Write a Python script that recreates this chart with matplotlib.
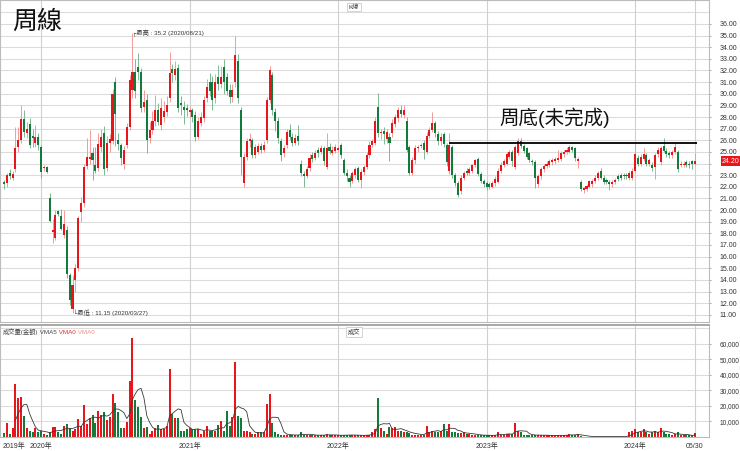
import matplotlib
matplotlib.use('Agg')
import matplotlib.pyplot as plt
from matplotlib import font_manager
import numpy as np
import pandas as pd

plt.rcParams['font.family'] = ['Liberation Sans', 'Noto Sans CJK TC', 'DejaVu Sans']

# ---------------- data (weekly candles) ----------------
start_date = '2019-10-11'
opens = [22.4, 22.3, 23.2, 22.8, 23.5, 25.4, 26.0, 27.8, 26.6, 27.4,
         26.4, 25.8, 26.3, 25.4, 23.6, 23.7, 21.0, 18.1, 17.6, 19.9,
         19.5, 17.9, 18.3, 14.4, 11.5, 14.0, 15.0, 19.8, 20.6, 23.8,
         24.4, 24.9, 23.9, 23.6, 25.4, 26.6, 23.6, 25.8, 25.9, 31.0,
         26.0, 25.6, 24.0, 25.6, 27.1, 30.3, 31.9, 32.3, 31.9, 28.9,
         29.5, 26.2, 26.9, 27.7, 28.6, 27.3, 28.0, 28.4, 29.6, 32.1,
         31.6, 32.2, 29.2, 28.9, 28.8, 28.4, 28.6, 28.2, 26.3, 27.5,
         27.9, 29.6, 31.0, 31.0, 29.6, 31.4, 30.8, 32.3, 31.4, 30.3,
         29.7, 31.0, 32.8, 28.6, 22.3, 24.6, 25.9, 26.0, 24.7, 25.0,
         25.5, 25.2, 26.0, 29.5, 31.6, 28.4, 27.7, 25.9, 24.9, 25.6,
         26.9, 26.3, 25.8, 26.4, 24.0, 23.1, 22.9, 23.6, 24.7, 24.5,
         25.2, 25.0, 25.3, 23.7, 25.4, 24.9, 25.1, 25.2, 25.6, 24.3,
         23.2, 22.8, 22.5, 23.0, 23.6, 22.6, 23.3, 23.7, 24.7, 25.6,
         25.8, 28.9, 26.6, 26.8, 26.1, 26.3, 26.6, 27.4, 27.9, 28.6,
         28.2, 27.7, 25.4, 23.2, 24.3, 25.3, 25.5, 25.8, 25.0, 26.4,
         26.9, 27.5, 26.5, 25.9, 26.5, 25.6, 23.4, 25.4, 23.0, 22.3,
         21.6, 22.8, 23.4, 23.2, 23.4, 23.9, 24.4, 23.1, 22.5, 22.3,
         22.2, 22.0, 22.3, 22.4, 23.4, 23.9, 24.0, 24.6, 25.0, 23.7,
         24.9, 25.9, 25.5, 25.3, 24.9, 24.2, 24.1, 22.2, 22.9, 23.5,
         23.8, 23.9, 24.1, 24.2, 24.3, 24.4, 24.8, 25.0, 25.0, 25.4,
         25.3, 24.2, 22.4, 21.7, 21.8, 22.0, 22.2, 22.5, 22.8, 23.4,
         22.8, 22.6, 22.4, 22.2, 22.4, 22.9, 23.0, 23.0, 23.0, 22.8,
         22.8, 23.4, 24.5, 24.0, 24.4, 24.7, 24.0, 23.9, 23.7, 24.8,
         24.1, 25.5, 25.1, 24.9, 24.7, 25.0, 25.0, 23.9, 23.9, 24.1,
         24.0, 24.2, 24.0]
highs = [22.6, 23.2, 23.5, 23.4, 27.1, 27.1, 29.0, 28.6, 27.6, 27.9,
         27.0, 27.3, 26.6, 25.6, 23.9, 23.8, 21.5, 19.2, 20.0, 20.0,
         20.1, 20.0, 18.6, 14.6, 14.4, 15.4, 19.5, 21.1, 24.0, 26.2,
         26.9, 25.4, 25.4, 26.6, 27.0, 27.2, 26.4, 26.5, 30.4, 31.4,
         26.6, 25.8, 25.5, 27.5, 31.6, 35.2, 33.0, 33.5, 32.2, 30.3,
         30.0, 27.6, 28.5, 29.9, 29.2, 29.6, 29.4, 29.8, 33.6, 32.6,
         32.8, 32.6, 29.8, 29.4, 29.1, 28.9, 28.8, 28.5, 28.0, 28.4,
         29.8, 31.3, 31.8, 31.5, 31.7, 32.5, 32.4, 33.0, 31.8, 30.8,
         30.8, 35.0, 33.4, 28.9, 24.9, 26.2, 26.6, 26.2, 25.7, 25.8,
         25.8, 25.9, 29.7, 32.4, 31.9, 28.8, 28.0, 26.2, 25.6, 27.0,
         27.4, 26.6, 26.5, 27.3, 24.3, 23.4, 23.8, 24.8, 25.0, 25.2,
         25.4, 25.6, 25.5, 26.6, 25.8, 25.5, 25.7, 25.5, 25.8, 24.5,
         23.5, 23.0, 23.4, 23.7, 23.8, 23.5, 23.9, 25.0, 25.9, 26.1,
         28.0, 30.1, 27.0, 27.1, 27.0, 26.6, 27.8, 28.3, 28.9, 29.0,
         29.0, 28.0, 25.6, 24.6, 25.6, 25.6, 25.8, 26.0, 26.7, 27.1,
         28.4, 27.7, 26.8, 26.6, 26.7, 25.8, 26.6, 25.6, 23.2, 22.5,
         23.0, 23.4, 23.6, 23.7, 24.0, 24.4, 24.6, 23.3, 22.7, 22.5,
         22.4, 22.5, 22.9, 23.6, 24.1, 24.4, 25.0, 25.2, 25.2, 25.6,
         26.2, 26.2, 25.7, 25.4, 25.0, 24.4, 24.3, 23.1, 23.7, 24.0,
         24.2, 24.4, 24.5, 24.6, 25.2, 25.1, 25.2, 25.4, 25.6, 25.5,
         25.4, 24.6, 22.6, 22.0, 22.2, 22.6, 22.7, 23.0, 23.4, 23.6,
         23.0, 22.8, 22.6, 22.6, 22.8, 23.1, 23.2, 23.2, 23.2, 23.4,
         23.6, 25.7, 24.7, 24.8, 25.3, 24.9, 24.5, 24.1, 24.9, 25.4,
         25.5, 26.2, 25.3, 25.1, 25.2, 25.8, 25.2, 24.2, 24.2, 24.3,
         24.2, 24.3, 24.9]
lows = [21.8, 22.0, 22.7, 22.6, 23.3, 25.0, 25.8, 26.3, 26.2, 25.3,
        25.4, 25.4, 25.2, 22.8, 23.4, 23.2, 19.0, 17.2, 17.4, 19.5,
        18.3, 17.6, 14.2, 11.8, 11.15, 13.0, 14.8, 19.0, 20.3, 23.5,
        24.0, 22.6, 23.2, 23.4, 25.0, 23.0, 23.4, 25.0, 25.7, 25.5,
        25.2, 23.9, 23.5, 25.3, 26.9, 29.6, 29.6, 31.2, 28.4, 28.4,
        24.9, 25.8, 26.5, 27.2, 27.3, 26.9, 27.6, 28.1, 29.3, 31.0,
        31.2, 28.4, 28.2, 27.4, 28.1, 28.0, 27.6, 25.9, 26.1, 27.2,
        27.6, 29.3, 29.8, 28.6, 29.2, 30.3, 30.5, 30.0, 29.9, 29.2,
        29.3, 30.6, 29.2, 23.0, 22.0, 24.3, 25.4, 24.5, 24.5, 24.8,
        24.9, 25.0, 25.8, 29.2, 28.2, 26.8, 25.8, 24.2, 24.6, 25.3,
        26.0, 25.5, 25.6, 25.6, 22.9, 22.0, 22.8, 23.4, 24.1, 24.3,
        24.6, 24.8, 23.9, 23.5, 24.8, 24.7, 24.9, 25.0, 24.5, 23.0,
        22.5, 22.0, 22.3, 22.8, 22.4, 21.9, 23.0, 23.5, 24.5, 25.4,
        25.6, 26.3, 26.1, 25.7, 25.8, 24.2, 26.3, 27.1, 27.6, 28.0,
        27.9, 25.0, 23.0, 23.0, 24.0, 25.0, 25.3, 24.4, 24.8, 26.2,
        26.7, 26.3, 25.6, 25.6, 25.4, 23.8, 23.1, 22.8, 22.1, 21.1,
        21.4, 22.6, 23.0, 23.0, 23.2, 23.7, 22.9, 22.3, 22.0, 21.7,
        21.8, 21.9, 22.1, 22.3, 23.2, 23.7, 23.9, 24.4, 23.8, 23.5,
        24.7, 25.3, 24.9, 24.4, 24.1, 23.9, 21.9, 22.0, 22.7, 23.3,
        23.6, 23.7, 23.9, 24.0, 24.1, 24.2, 24.6, 24.8, 24.9, 25.0,
        24.2, 23.6, 21.6, 21.5, 21.6, 21.9, 22.0, 22.3, 22.6, 22.7,
        22.2, 22.2, 21.7, 22.0, 22.2, 22.5, 22.6, 22.7, 22.7, 22.6,
        22.6, 23.3, 23.8, 23.8, 24.2, 23.8, 23.8, 23.4, 22.7, 24.6,
        23.9, 25.0, 24.6, 24.5, 24.5, 24.8, 23.3, 23.7, 23.7, 23.7,
        23.6, 23.5, 23.9]
closes = [22.2, 23.0, 22.9, 23.1, 25.3, 26.0, 27.8, 26.7, 27.0, 25.6,
          26.2, 26.3, 25.6, 23.3, 23.7, 23.3, 19.1, 18.3, 19.6, 19.7,
          18.4, 18.8, 14.5, 12.3, 13.6, 15.0, 19.3, 20.6, 23.7, 24.6,
          24.6, 24.3, 23.4, 25.7, 26.3, 23.5, 25.8, 26.1, 30.0, 28.3,
          25.7, 24.5, 25.2, 27.1, 31.2, 31.9, 30.2, 31.9, 28.8, 29.3,
          26.0, 26.9, 27.7, 28.6, 27.6, 28.8, 28.5, 29.0, 31.8, 31.8,
          32.1, 28.8, 29.0, 28.6, 28.6, 28.6, 28.0, 26.3, 27.7, 28.0,
          29.5, 30.6, 30.2, 29.5, 31.0, 30.8, 31.4, 31.0, 30.2, 29.7,
          30.3, 33.3, 29.6, 24.6, 24.6, 25.9, 26.1, 24.7, 25.4, 25.5,
          25.2, 25.6, 29.5, 32.0, 28.6, 27.7, 26.2, 24.7, 25.3, 26.7,
          26.3, 25.8, 26.2, 25.9, 23.2, 22.9, 23.5, 24.5, 24.4, 24.9,
          24.9, 25.3, 24.2, 25.3, 25.1, 25.2, 25.4, 25.3, 24.7, 23.2,
          22.9, 22.4, 23.2, 23.5, 22.6, 23.3, 23.7, 24.7, 25.6, 25.9,
          27.7, 26.6, 26.7, 26.5, 26.7, 25.8, 27.5, 28.0, 28.6, 28.3,
          28.6, 25.2, 23.2, 24.3, 25.3, 25.4, 25.6, 25.2, 26.4, 26.9,
          27.5, 26.6, 25.9, 26.3, 25.7, 24.1, 25.6, 23.0, 22.3, 21.3,
          22.8, 23.2, 23.2, 23.5, 23.9, 24.3, 23.1, 22.5, 22.2, 22.0,
          22.0, 22.3, 22.7, 23.4, 23.9, 24.2, 24.8, 25.0, 24.2, 25.4,
          25.9, 25.5, 25.1, 24.6, 24.3, 24.1, 22.8, 22.9, 23.5, 23.8,
          24.0, 24.2, 24.3, 24.4, 24.5, 24.9, 25.0, 25.2, 25.4, 25.2,
          24.5, 24.4, 21.8, 21.9, 22.1, 22.5, 22.5, 22.8, 23.2, 22.8,
          22.4, 22.4, 22.2, 22.4, 22.6, 22.7, 22.8, 22.9, 22.9, 23.2,
          23.4, 24.8, 24.0, 24.6, 24.8, 24.0, 24.3, 23.6, 24.7, 25.2,
          25.3, 25.1, 24.8, 24.7, 25.0, 25.4, 23.5, 24.0, 24.0, 23.9,
          23.9, 24.0, 24.2]
# weekly turnover, in thousands
volumes_k = [2.6, 9, 2, 6, 34, 25, 26, 13.5, 6, 4,
             3, 6, 3, 4, 2, 1.5, 3, 6.5, 6.5, 3,
             2, 7, 8.5, 6, 4, 5, 11.5, 7, 20.5, 8.5,
             12, 14, 9, 17, 14, 16, 11, 13, 28, 22,
             16, 6, 6, 9.5, 36, 64, 24, 19.5, 13, 6,
             6.5, 2, 4, 6, 7.5, 5, 5, 7, 44, 15,
             12.5, 12, 4, 4, 5, 6, 5, 5, 5, 2,
             4, 7, 4, 4, 4, 7.5, 10, 4, 17, 7,
             13, 48, 13.5, 12, 4, 4, 3, 2, 2, 3,
             3, 3, 21, 27.5, 9, 3, 2, 1.5, 1.5, 1.5,
             1.2, 1.2, 1.0, 1.5, 3, 1.5, 1.2, 1.5, 1.0, 1.2,
             1.0, 1.2, 1.5, 2.0, 1.2, 1.0, 1.0, 1.0, 1.2, 1.5,
             1.5, 1.2, 1.0, 1.0, 1.2, 1.0, 1.0, 1.5, 1.5, 3,
             5, 25, 6, 4, 2, 6.5, 6, 6.5, 4, 4,
             3, 3, 2.5, 1.5, 1.5, 1.5, 1.5, 1.5, 7, 3,
             4, 3.5, 3, 4, 8.5, 4, 8.5, 3, 3, 2.5,
             2.5, 3, 2, 2, 1.5, 1.2, 1.2, 1.0, 1.0, 1.2,
             1.0, 1.0, 1.2, 3, 1.5, 1.5, 2, 2, 2, 9,
             4, 3, 1.5, 1.2, 1.2, 1.0, 1.5, 1.2, 1.0, 1.0,
             1.0, 1.0, 1.0, 1.0, 1.2, 1.0, 1.0, 1.2, 2, 1.5,
             1.2, 2, 0.4, 0.3, 0.3, 0.3, 0.3, 0.3, 0.3, 0.3,
             0.3, 0.3, 0.3, 0.3, 0.3, 0.3, 0.3, 0.3, 0.3, 3,
             4, 5, 3, 3, 5, 3, 2, 3, 4, 3,
             6, 3, 2, 2, 1, 2, 3, 1, 1, 1,
             1, 1, 2.5]

price_ticks = list(range(11, 37))
vol_ticks_k = [10, 20, 30, 40, 50, 60]
bottom_line_price = 25.8
bottom_line_from = 156
last_price = 24.20
high_label = '最高 : 35.2 (2020/08/21)'
low_label = '最低 : 11.15 (2020/03/27)'
end_label = '05/30'
pattern_label = '周底(未完成)'

# ---------------- drawing ----------------
def pick_font(names):
    for n in names:
        try:
            font_manager.findfont(n, fallback_to_default=False)
            return n
        except Exception:
            pass
    return 'DejaVu Sans'

NARROW = pick_font(['Liberation Sans Narrow', 'Liberation Sans'])

N = len(closes)
o = np.array(opens); h = np.array(highs); l = np.array(lows); c = np.array(closes)
v = np.array(volumes_k)
x = np.arange(N)
dates = pd.date_range(start_date, periods=N, freq='7D')

RED = '#e8151b'
GREEN = '#127a3a'
RED_W = '#f39a9a'
GREEN_W = '#7fb893'

up = c >= o
body_col = np.where(up, RED, GREEN)
wick_col = np.where(up, RED_W, GREEN_W)

W, H = 740, 451
fig = plt.figure(figsize=(W / 100, H / 100), dpi=100)
fig.patch.set_facecolor('white')
ax = fig.add_axes([0, 1 - 322 / H, 709 / W, 322 / H])
axv = fig.add_axes([0, 1 - 437 / H, 709 / W, (437 - 325) / H])

xl = (-1.4, 246.9)
for a in (ax, axv):
    a.set_xlim(*xl)
    for s in a.spines.values():
        s.set_color('#bbbbbb')
        s.set_linewidth(0.8)
axv.spines['top'].set_color('#999999')
axv.spines['top'].set_linewidth(1.2)

ax.set_ylim(10.38, 38.06)
axv.set_ylim(0, 72.1)

# horizontal grid
for p in range(11, 38):
    ax.axhline(p, color='#dcdcdc', lw=0.8, zorder=0)
for t in range(10, 71, 10):
    axv.axhline(t, color='#dcdcdc', lw=0.8, zorder=0)

# year lines (first week whose Monday lies in the new year)
year_idx = []
year_lab = []
for i, d in enumerate(dates):
    mon = d - pd.Timedelta(days=4)
    if i > 0 and mon.year != (dates[i - 1] - pd.Timedelta(days=4)).year:
        year_idx.append(i)
        year_lab.append(f'{mon.year}年')
for a in (ax, axv):
    for i in year_idx:
        a.axvline(i, color='#d0d0d0', lw=0.8, zorder=0)
    a.axvline(N - 1, color='#d0d0d0', lw=0.8, zorder=0)

# candles
ax.vlines(x, l, h, colors=wick_col, lw=0.7, zorder=2)
ax.bar(x, np.maximum(np.abs(c - o), 0.06), bottom=np.minimum(o, c), width=0.72,
       color=body_col, linewidth=0, zorder=3)

# volume
axv.bar(x, v, width=0.7, color=body_col, linewidth=0, zorder=2)
vma5 = pd.Series(v).rolling(5).mean()
axv.plot(x, vma5, color='#3a3a3a', lw=0.6, zorder=3)

# ticks (the 24.00 label sits under the last-price box, as in the original)
ax.set_xticks([])
axv.set_xticks([])
ax.yaxis.tick_right()
ax.set_yticks(price_ticks)
ax.set_yticklabels(['' if abs(p - last_price) < 0.5 else f'{p:.2f}' for p in price_ticks])
axv.yaxis.tick_right()
axv.set_yticks(vol_ticks_k)
axv.set_yticklabels([f'{int(t * 1000):,}' for t in vol_ticks_k])
for a, fs in ((ax, 5), (axv, 4.7)):
    a.tick_params(axis='y', length=1.5, width=0.6, color='#999999', pad=6.0,
                  labelsize=fs, labelcolor='#333333')
    for lab in a.get_yticklabels():
        lab.set_family([NARROW, 'DejaVu Sans'])

# x labels
ytxt = -0.085
axv.text(0.003, ytxt, '2019年', transform=axv.transAxes, fontsize=5,
         color='#333333', ha='left', va='center')
for i, lab in zip(year_idx, year_lab):
    axv.text(i, ytxt, lab, transform=axv.get_xaxis_transform(), fontsize=5,
             color='#333333', ha='center', va='center')
axv.text(N - 1, ytxt, end_label, transform=axv.get_xaxis_transform(), fontsize=5,
         color='#333333', ha='center', va='center')

# bottom pattern line
ax.hlines(bottom_line_price, bottom_line_from, N - 0.4, color='black', lw=1.3, zorder=5)
ax.text(193, 27.95, pattern_label, fontsize=14, ha='center', va='center', color='#111111')

# title
fig.text(12 / W, 1 - 22 / H, '周線', fontsize=18, ha='left', va='center', color='#111111')

# high / low annotations
ih = int(np.argmax(h))
il = int(np.argmin(l))
ax.text(ih, h[ih], '┌' + high_label, fontsize=4.5, color='#333333', ha='left', va='center',
        zorder=6)
ax.text(il, l[il], '└' + low_label, fontsize=4.5, color='#333333', ha='left', va='center',
        zorder=6)

# last price box
ax.text(1.0 + 13 / 709, last_price, f'{last_price:.2f}', transform=ax.get_yaxis_transform(),
        fontsize=5, color='white', ha='left', va='center', zorder=7, family=[NARROW, 'DejaVu Sans'],
        bbox=dict(boxstyle='square,pad=0.2', fc='#e8151b', ec='none'), clip_on=False)

# small buttons
fig.text(354 / W, 1 - 7 / H, 'K線', fontsize=4.5, ha='center', va='center', color='#333333',
         bbox=dict(boxstyle='square,pad=0.25', fc='white', ec='#cccccc', lw=0.6))
fig.text(354 / W, 1 - 332 / H, '成交', fontsize=4.5, ha='center', va='center', color='#333333',
         bbox=dict(boxstyle='square,pad=0.25', fc='white', ec='#cccccc', lw=0.6))

# volume legend
lx = 3 / W
ly = 1 - 332 / H
parts = [('成交量(金額)', '#444444'), (' VMA5', '#444444'), (' VMA0', '#e03030'), (' VMA0', '#f09090')]
fig.canvas.draw()
r = fig.canvas.get_renderer()
cur = lx
for s, col in parts:
    tt = fig.text(cur, ly, s, fontsize=4.5, color=col, ha='left', va='center')
    bb = tt.get_window_extent(renderer=r)
    cur += bb.width / W

fig.savefig('out.png', dpi=100, facecolor='white')
